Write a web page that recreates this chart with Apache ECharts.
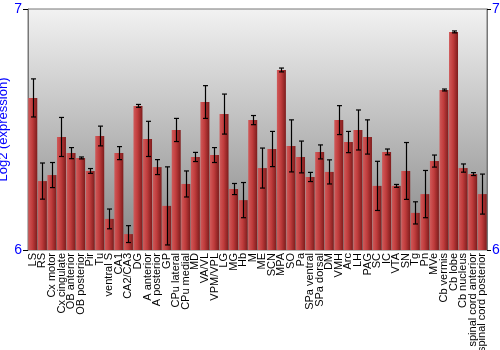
<!DOCTYPE html>
<html><head><meta charset="utf-8">
<script src="https://cdn.jsdelivr.net/npm/echarts@6/dist/echarts.min.js"></script>
<style>html,body{margin:0;padding:0;background:#fff}#c{width:500px;height:350px}</style>
</head><body><div id="c"></div>
<script>
var categories = ["LS","RS","Cx motor","Cx cingulate","OB anterior","OB posterior","Pir","Tu","ventral S","CA1","CA2/CA3","DG","A anterior","A posterior","GP","CPu lateral","CPu medial","MD","VA/VL","VPM/VPL","LG","MG","Hb","M","ME","SCN","MPA","SO","Pa","SPa ventral","SPa dorsal","DM","VMH","Arc","LH","PAG","SC","IC","VTA","SN","Tg","Pn","MVe","Cb vermis","Cb lobe","Cb nucleus","spinal cord anterior","spinal cord posterior"];
var values = [6.631,6.286,6.311,6.469,6.402,6.382,6.328,6.473,6.129,6.402,6.066,6.598,6.461,6.344,6.183,6.498,6.274,6.386,6.614,6.394,6.564,6.253,6.207,6.539,6.340,6.419,6.747,6.432,6.386,6.303,6.407,6.324,6.539,6.448,6.498,6.469,6.266,6.407,6.266,6.328,6.154,6.232,6.369,6.664,6.905,6.340,6.315,6.232];
var errors = [0.079,0.075,0.052,0.081,0.023,0.004,0.010,0.041,0.041,0.027,0.035,0.006,0.073,0.031,0.162,0.048,0.054,0.019,0.068,0.031,0.083,0.023,0.073,0.019,0.083,0.073,0.008,0.108,0.066,0.019,0.029,0.050,0.060,0.044,0.083,0.071,0.102,0.012,0.006,0.118,0.046,0.098,0.025,0.004,0.004,0.017,0.006,0.083];
var yTicks = [6, 7];

var errData = values.map(function(v,i){return [i, v - errors[i], v + errors[i]];});
var chart = echarts.init(document.getElementById('c'), null, {renderer:'canvas'});
var font = '"Liberation Sans", Arial, sans-serif';
chart.setOption({
  animation:false,
  grid:{left:28,right:13,top:9,bottom:100,containLabel:false,outerBoundsMode:'none',show:true,borderColor:'#777',borderWidth:1,
    backgroundColor:new echarts.graphic.LinearGradient(0,0,0,1,[{offset:0,color:'#f2f2f2'},{offset:1,color:'#858585'}])},
  xAxis:{type:'category',data:categories,
    axisLine:{show:false},axisTick:{show:false},
    axisLabel:{interval:0,rotate:90,color:'#000',fontFamily:font,fontSize:11,margin:3}},
  yAxis:[
    {type:'value',min:yTicks[0],max:yTicks[1],interval:1,position:'left',
     name:'Log2 (expression)',nameLocation:'middle',nameGap:18,nameRotate:90,nameMoveOverlap:false,
     nameTextStyle:{color:'#0000ff',fontFamily:font,fontSize:13},
     axisLine:{show:true,lineStyle:{color:'#777'}},axisTick:{show:true,length:5,lineStyle:{color:'#000'}},
     splitLine:{show:false},
     axisLabel:{color:'#0000ff',fontFamily:font,fontSize:14,margin:6}},
    {type:'value',min:yTicks[0],max:yTicks[1],interval:1,position:'right',
     axisLine:{show:true,lineStyle:{color:'#777'}},axisTick:{show:true,length:4,lineStyle:{color:'#000'}},
     splitLine:{show:false},
     axisLabel:{color:'#0000ff',fontFamily:font,fontSize:14,margin:5}}
  ],
  series:[
    {type:'bar',data:values,barCategoryGap:'6%',
     itemStyle:{color:new echarts.graphic.LinearGradient(0,0,1,0,[{offset:0,color:'#d05a5a'},{offset:0.45,color:'#c03c3c'},{offset:1,color:'#7e1c1c'}])}},
    {type:'custom',data:errData,z:10,
     renderItem:function(params,api){
       var x = api.coord([api.value(0),api.value(1)]);
       var y2 = api.coord([api.value(0),api.value(2)]);
       var cx = Math.round(x[0])+0.5;
       var hw = 2.5;
       var st = {stroke:'#000',lineWidth:1.2};
       return {type:'group',children:[
         {type:'line',shape:{x1:cx,y1:x[1],x2:cx,y2:y2[1]},style:st},
         {type:'line',shape:{x1:cx-hw,y1:x[1],x2:cx+hw,y2:x[1]},style:st},
         {type:'line',shape:{x1:cx-hw,y1:y2[1],x2:cx+hw,y2:y2[1]},style:st}
       ]};
     }}
  ]
});
</script></body></html>
